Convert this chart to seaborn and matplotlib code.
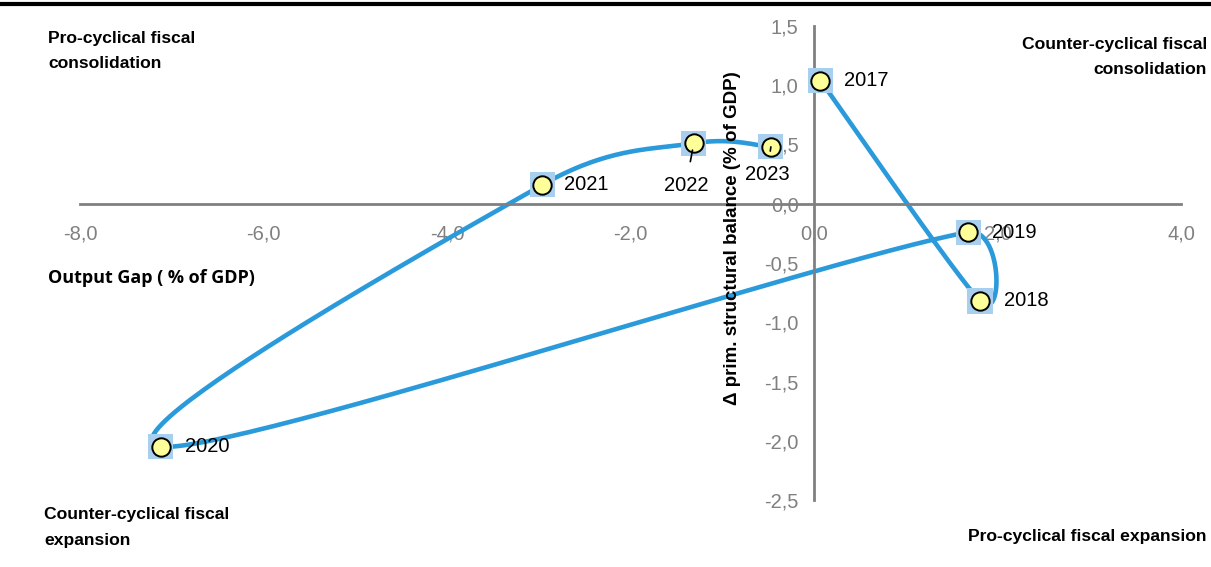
import numpy as np
import matplotlib
matplotlib.use("Agg")
import matplotlib.pyplot as plt
import seaborn as sns
from matplotlib.lines import Line2D

# data
years = ['2017', '2018', '2019', '2020', '2021', '2022', '2023']
output_gap = [0.07, 1.81, 1.68, -7.12, -2.96, -1.31, -0.47]
delta_balance = [1.04, -0.82, -0.24, -2.05, 0.16, 0.51, 0.48]
x_ticks = [-8, -6, -4, -2, 0, 2, 4]
y_ticks = [-2.5, -2.0, -1.5, -1.0, -0.5, 0.0, 0.5, 1.0, 1.5]

LINE_BLUE = '#2B9ADB'
GREY = '#808080'

sns.set_style('white')
plt.rcParams['font.family'] = ['Liberation Sans', 'DejaVu Sans']
plt.rcParams['text.color'] = 'black'


def smooth_curve(xs, ys, sx, sy, n=60):
    # Excel-like smoothed line: bezier segments, control arms capped by segment length
    p = np.column_stack([np.array(xs) * sx, np.array(ys) * sy])
    pp = np.vstack([p[0], p, p[-1]])
    out = []
    for i in range(1, len(pp) - 2):
        p0, p1, p2, p3 = pp[i - 1], pp[i], pp[i + 1], pp[i + 2]
        seg = np.linalg.norm(p2 - p1)
        t1 = p2 - p0
        t2 = p3 - p1
        l1 = min(np.linalg.norm(t1) / 6, seg / 2)
        l2 = min(np.linalg.norm(t2) / 6, seg / 2)
        c1 = p1 + t1 / (np.linalg.norm(t1) + 1e-9) * l1
        c2 = p2 - t2 / (np.linalg.norm(t2) + 1e-9) * l2
        t = np.linspace(0, 1, n)[:, None]
        b = ((1 - t) ** 3) * p1 + 3 * ((1 - t) ** 2) * t * c1 + 3 * (1 - t) * t ** 2 * c2 + t ** 3 * p2
        out.append(b if i == 1 else b[1:])
    out = np.vstack(out)
    return out[:, 0] / sx, out[:, 1] / sy


fig = plt.figure(figsize=(12.11, 5.67), dpi=100)
ax = fig.add_axes([80 / 1211, 1 - 500 / 567, 1101 / 1211, 474 / 567])

cx, cy = smooth_curve(output_gap, delta_balance, 91.7, 118.8)
sns.lineplot(x=cx, y=cy, sort=False, estimator=None, color=LINE_BLUE, lw=3.3, ax=ax, zorder=2)
sns.scatterplot(x=output_gap, y=delta_balance, marker='s', s=330, color='#A9CFEF',
                edgecolor='none', ax=ax, zorder=3, legend=False)
sns.scatterplot(x=output_gap, y=delta_balance, marker='o', s=175, color='#FFFF99',
                edgecolor='black', linewidth=1.4, ax=ax, zorder=4, legend=False)

ax.set_xlim(-8, 4)
ax.set_ylim(-2.5, 1.5)
ax.set_xticks(x_ticks)
ax.set_yticks(y_ticks)
ax.set_xticklabels([f'{v:.1f}'.replace('.', ',') for v in x_ticks])
ax.set_yticklabels([f'{v:.1f}'.replace('.', ',') for v in y_ticks])

for s in ['top', 'right']:
    ax.spines[s].set_visible(False)
ax.spines['left'].set_position(('data', 0))
ax.spines['bottom'].set_position(('data', 0))
for s in ['left', 'bottom']:
    ax.spines[s].set_color(GREY)
    ax.spines[s].set_linewidth(2)
ax.tick_params(axis='both', direction='out', length=5, width=2, color=GREY,
               labelcolor=GREY, labelsize=14.5)
ax.tick_params(axis='x', pad=10)
ax.tick_params(axis='y', pad=6)
ax.patch.set_alpha(0)

# year labels
offsets = {'2017': (24, 0), '2018': (24, 0), '2019': (24, 0), '2020': (24, 0),
           '2021': (22, 0), '2022': (-8, -42), '2023': (-4, -28)}
for yr, gx, gy in zip(years, output_gap, delta_balance):
    dx, dy = offsets[yr]
    if dy == 0:
        ax.annotate(yr, (gx, gy), xytext=(dx, dy), textcoords='offset pixels',
                    ha='left', va='center', fontsize=14.5, zorder=5)
    else:
        ax.annotate(yr, (gx, gy), xytext=(dx, dy), textcoords='offset pixels',
                    ha='center', va='center', fontsize=14.5, zorder=5,
                    arrowprops=dict(arrowstyle='-', color='black', lw=1.2, shrinkA=8, shrinkB=5))

ax.text(0.593, 0.553, 'Δ prim. structural balance (% of GDP)', transform=ax.transAxes,
        rotation=90, ha='center', va='center', fontsize=13.5, fontweight='bold')

fig.text(48 / 1211, 1 - 278 / 567, 'Output Gap ( % of GDP)', ha='left', va='center',
         fontsize=13, fontweight='bold', family='Open Sans')

qkw = dict(fontsize=12.6, fontweight='bold', va='center')
fig.text(48 / 1211, 1 - 39 / 567, 'Pro-cyclical fiscal', ha='left', **qkw)
fig.text(48 / 1211, 1 - 64 / 567, 'consolidation', ha='left', **qkw)
fig.text(1207 / 1211, 1 - 45 / 567, 'Counter-cyclical fiscal', ha='right', **qkw)
fig.text(1207 / 1211, 1 - 70 / 567, 'consolidation', ha='right', **qkw)
fig.text(44 / 1211, 1 - 514 / 567, 'Counter-cyclical fiscal', ha='left', **qkw)
fig.text(44 / 1211, 1 - 540 / 567, 'expansion', ha='left', **qkw)
fig.text(1207 / 1211, 1 - 537 / 567, 'Pro-cyclical fiscal expansion', ha='right', **qkw)

fig.add_artist(Line2D([0, 1], [1 - 4 / 567, 1 - 4 / 567], color='black', lw=3, transform=fig.transFigure))

fig.savefig('out.png', dpi=100)
